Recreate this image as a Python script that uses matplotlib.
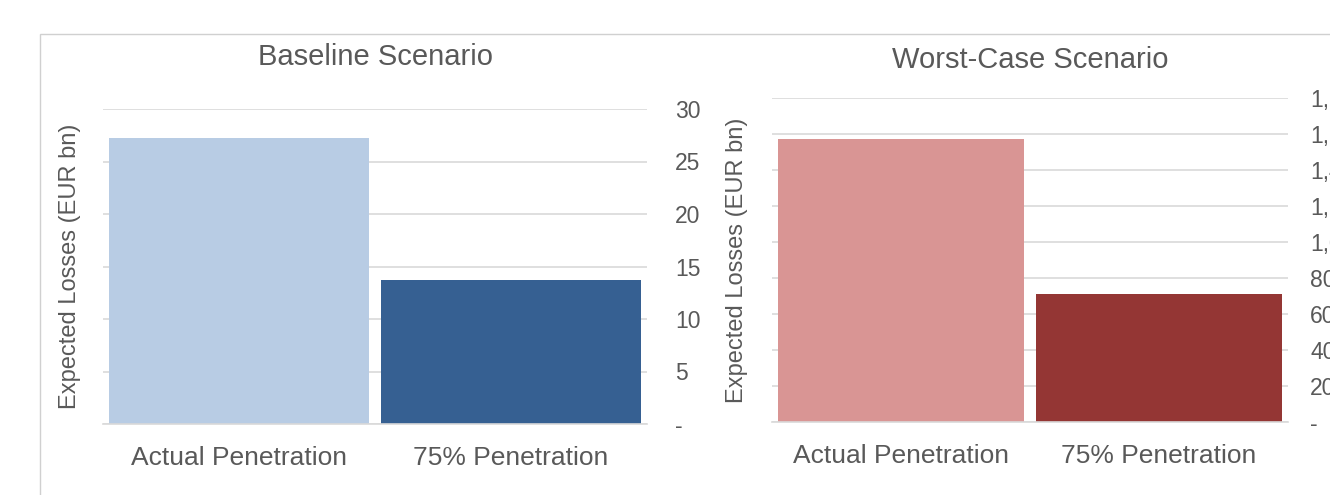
import matplotlib.pyplot as plt
from matplotlib.ticker import FuncFormatter
from matplotlib.patches import Rectangle

plt.rcParams['font.family'] = ['Liberation Sans', 'DejaVu Sans']

categories = ['Actual Penetration', '75% Penetration']
baseline = [27.2, 13.7]
worst_case = [1575, 710]

baseline_colors = ['#b8cce4', '#366092']
worst_colors = ['#d99594', '#943634']

text_col = '#595959'
grid_col = '#d9d9d9'


def acct(v, pos):
    # accounting style: dash for zero, thousands separator otherwise
    if v == 0:
        return '-'
    return f'{v:,.0f}'


def style(ax, ylim, step, title, title_gap, tick_pad):
    ax.set_xlim(-0.5, 1.5)
    ax.set_ylim(0, ylim)
    ax.set_yticks(range(0, ylim + 1, step))
    ax.yaxis.set_major_formatter(FuncFormatter(acct))
    ax.yaxis.tick_right()
    ax.tick_params(axis='y', length=0, pad=tick_pad, labelsize=16.5,
                   labelcolor=text_col)
    for lbl in ax.get_yticklabels():
        lbl.set_horizontalalignment('left')
    ax.set_xticks(range(len(categories)))
    ax.set_xticklabels(categories)
    ax.tick_params(axis='x', length=0, pad=16, labelsize=19, labelcolor=text_col)
    ax.grid(axis='y', color=grid_col, linewidth=1.2)
    ax.set_axisbelow(True)
    for s in ['top', 'left', 'right']:
        ax.spines[s].set_visible(False)
    ax.spines['bottom'].set_color(grid_col)
    ax.spines['bottom'].set_linewidth(1.2)
    ax.set_ylabel('Expected Losses (EUR bn)', fontsize=17, color=text_col)
    ax.text(0.5, 1 + title_gap, title, transform=ax.transAxes, ha='center',
            va='center', fontsize=21, color=text_col)


fig = plt.figure(figsize=(13.3, 4.95), dpi=100)

# light frame around the chart area
fig.patches.append(Rectangle((40 / 1330, -0.1), 1.2, (495 - 34) / 495 + 0.1,
                             transform=fig.transFigure, fill=False,
                             edgecolor='#d0d0d0', linewidth=1.0))

ax1 = fig.add_axes([103 / 1330, 71 / 495, 544 / 1330, 315 / 495])
ax1.bar(range(len(categories)), baseline, width=0.955, color=baseline_colors)
style(ax1, 30, 5, 'Baseline Scenario', 52 / 315, 20)
ax1.yaxis.set_label_coords(-22 / 544, 0.5)

ax2 = fig.add_axes([772 / 1330, 73 / 495, 516 / 1330, 324 / 495])
ax2.bar(range(len(categories)), worst_case, width=0.955, color=worst_colors)
style(ax2, 1800, 200, 'Worst-Case Scenario', 38 / 324, 16)
ax2.yaxis.set_label_coords(-24 / 516, 0.5)

fig.savefig('out.png', dpi=100)
